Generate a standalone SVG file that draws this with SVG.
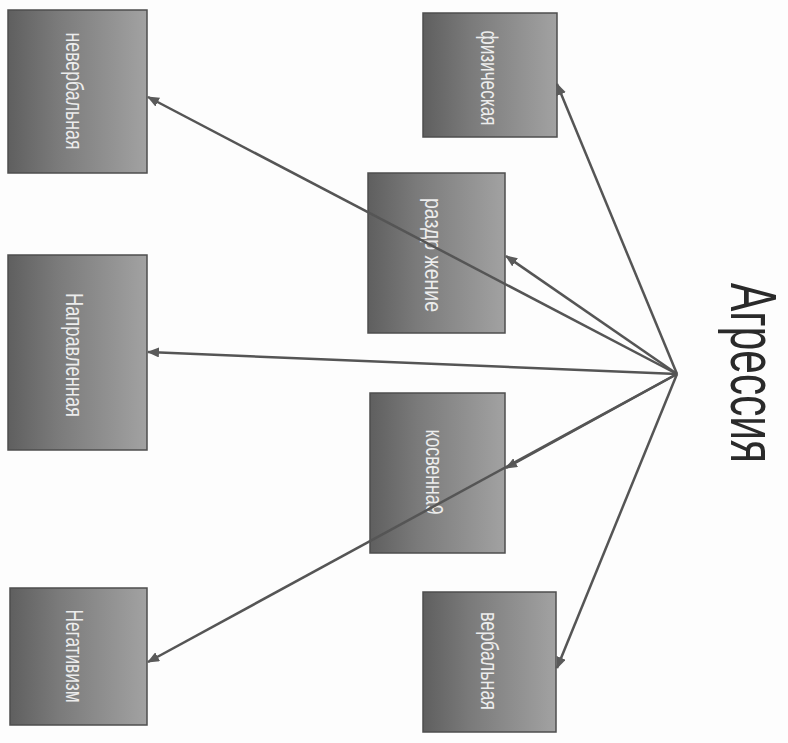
<svg xmlns="http://www.w3.org/2000/svg" width="788" height="743" viewBox="0 0 788 743">
<defs>
<linearGradient id="g" x1="0" y1="0" x2="1" y2="0">
<stop offset="0" stop-color="#5f5f5f"/>
<stop offset="0.35" stop-color="#7a7a7a"/>
<stop offset="1" stop-color="#a2a2a2"/>
</linearGradient>
<marker id="ah" markerUnits="userSpaceOnUse" markerWidth="12" markerHeight="10" refX="11" refY="5" orient="auto">
<path d="M0,0 L12,5 L0,10 z" fill="#5a5a5a"/>
</marker>
<style>
.box{fill:url(#g);stroke:#4e4e4e;stroke-width:1.5}
.lbl{font-family:"Liberation Sans",Arial,sans-serif;font-size:24px;fill:#ececec;text-anchor:middle}
.con{stroke:#555555;stroke-width:2.5;fill:none;marker-end:url(#ah)}
</style>
</defs>
<rect width="788" height="743" fill="#fdfdfd"/>
<g id="root">
<text transform="translate(731,373) rotate(90)" x="0" y="0" font-family="'Liberation Sans',Arial,sans-serif" font-size="64" fill="#2a2a2a" text-anchor="middle" textLength="180" lengthAdjust="spacingAndGlyphs">Агрессия</text>
</g>
<g id="n-neverbal">
<rect class="box" x="8" y="10" width="139" height="163"/>
<text class="lbl" transform="translate(66,91) rotate(90)" textLength="117" lengthAdjust="spacingAndGlyphs">невербальная</text>
</g>
<g id="n-napravl">
<rect class="box" x="8" y="255" width="139" height="195"/>
<text class="lbl" transform="translate(66,355) rotate(90)" textLength="124" lengthAdjust="spacingAndGlyphs">Направленная</text>
</g>
<g id="n-negativ">
<rect class="box" x="10" y="588" width="137" height="137"/>
<text class="lbl" transform="translate(66,656) rotate(90)" textLength="93" lengthAdjust="spacingAndGlyphs">Негативизм</text>
</g>
<g id="n-fizich">
<rect class="box" x="423" y="13" width="134" height="124"/>
<text class="lbl" transform="translate(481,78) rotate(90)" textLength="95" lengthAdjust="spacingAndGlyphs">физическая</text>
</g>
<g id="n-razdr">
<rect class="box" x="368" y="173" width="137" height="160"/>
<text class="lbl" transform="translate(425,255) rotate(90)" textLength="114" lengthAdjust="spacingAndGlyphs">раздр жение</text>
</g>
<g id="n-kosv">
<rect class="box" x="370" y="393" width="135" height="160"/>
<text class="lbl" transform="translate(426,472) rotate(90)" textLength="85" lengthAdjust="spacingAndGlyphs">косвенна9</text>
</g>
<g id="n-verbal">
<rect class="box" x="423" y="592" width="133" height="140"/>
<text class="lbl" transform="translate(481,661) rotate(90)" textLength="98" lengthAdjust="spacingAndGlyphs">вербальная</text>
</g>
<g id="connectors">
<line class="con" x1="677" y1="374" x2="557" y2="84"/>
<line class="con" x1="677" y1="374" x2="148" y2="97"/>
<line class="con" x1="677" y1="374" x2="506" y2="256"/>
<line class="con" x1="677" y1="374" x2="148" y2="352"/>
<line class="con" x1="677" y1="374" x2="506" y2="468"/>
<line class="con" x1="677" y1="374" x2="148" y2="662"/>
<line class="con" x1="677" y1="374" x2="557" y2="668"/>
</g>
</svg>
